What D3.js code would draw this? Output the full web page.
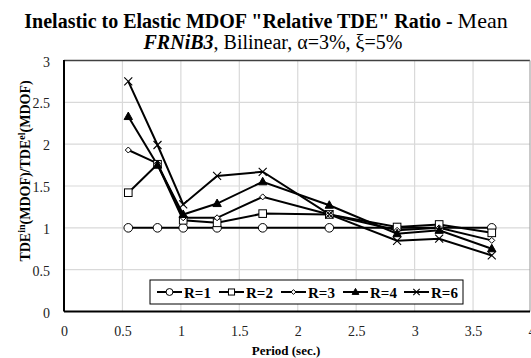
<!DOCTYPE html>
<html>
<head>
<meta charset="utf-8">
<script src="https://cdn.jsdelivr.net/npm/d3@7"></script>
<style>
  body { margin: 0; background: #fff; }
</style>
</head>
<body>
<main></main>
<script>
// periods (sec.) and mean ratios
let periods = [0.55, 0.8, 1.02, 1.31, 1.7, 2.27, 2.85, 3.21, 3.66]
let r1 = [1, 1, 1, 1, 1, 1, 1, 1, 1]
let r2 = [1.42, 1.76, 1.09, 1.06, 1.17, 1.16, 1.01, 1.04, 0.94]
let r3 = [1.93, 1.77, 1.12, 1.12, 1.37, 1.16, 0.97, 1.0, 0.85]
let r4 = [2.33, 1.75, 1.16, 1.29, 1.55, 1.27, 0.93, 0.97, 0.75]
let r6 = [2.75, 1.99, 1.28, 1.62, 1.67, 1.16, 0.845, 0.87, 0.67]
let seriesNames = ["R=1", "R=2", "R=3", "R=4", "R=6"]
let xTicks = [0, 0.5, 1, 1.5, 2, 2.5, 3, 3.5, 4]
let yTicks = [0, 0.5, 1, 1.5, 2, 2.5, 3]

const svgWidth = 531
const svgHeight = 358
const plotLeft = 64, plotRight = 530, plotTop = 60.5, plotBottom = 311.5
const serif = "'Liberation Serif', 'Times New Roman', Times, serif"

let svg = d3.select("main")
    .append("svg")
    .attr("width", svgWidth)
    .attr("height", svgHeight)
    .style("font-family", serif)
    .style("display", "block")

let xScale = d3.scaleLinear().domain([0, 4]).range([plotLeft, plotRight + 1.5])
let yScale = d3.scaleLinear().domain([0, 3]).range([plotBottom, plotTop])

//gridlines
svg.append("g").selectAll("line")
    .data(xTicks.slice(1, -1))
    .enter().append("line")
    .attr("x1", d => xScale(d)).attr("x2", d => xScale(d))
    .attr("y1", plotTop).attr("y2", plotBottom)
    .style("stroke", "#d9d9d9").style("stroke-width", 1.2)

svg.append("g").selectAll("line")
    .data(yTicks.slice(1, -1))
    .enter().append("line")
    .attr("x1", plotLeft).attr("x2", plotRight)
    .attr("y1", d => yScale(d)).attr("y2", d => yScale(d))
    .style("stroke", "#d9d9d9").style("stroke-width", 1.2)

//plot border
svg.append("line").attr("x1", plotLeft).attr("x2", plotRight).attr("y1", plotTop).attr("y2", plotTop)
    .style("stroke", "#404040").style("stroke-width", 1.5)
svg.append("line").attr("x1", plotRight).attr("x2", plotRight).attr("y1", plotTop).attr("y2", plotBottom)
    .style("stroke", "#a6a6a6").style("stroke-width", 1.2)

//axes
let bottomAxis = d3.axisBottom(xScale).tickValues(xTicks).tickSize(0).tickPadding(15)
    .tickFormat(d3.format("~g"))
let xAxis = svg.append("g")
    .attr("transform", `translate(0, ${plotBottom})`)
    .call(bottomAxis)
    .attr("font-family", null)
    .style("font-size", "14px")
xAxis.select("path").remove()
xAxis.selectAll("text").attr("fill", "#222")

let leftAxis = d3.axisLeft(yScale).tickValues(yTicks).tickSize(0).tickPadding(14)
    .tickFormat(d3.format("~g"))
let yAxis = svg.append("g")
    .attr("transform", `translate(${plotLeft}, 0)`)
    .call(leftAxis)
    .attr("font-family", null)
    .style("font-size", "14px")
yAxis.select("path").remove()
yAxis.selectAll("text").attr("fill", "#222").attr("dy", "0.4em")

svg.append("line").attr("x1", plotLeft).attr("x2", plotLeft).attr("y1", plotTop - 0.5).attr("y2", plotBottom)
    .style("stroke", "#000").style("stroke-width", 2)
svg.append("line").attr("x1", plotLeft).attr("x2", plotRight).attr("y1", plotBottom).attr("y2", plotBottom)
    .style("stroke", "#000").style("stroke-width", 2)

//series
let allSeries = [r1, r2, r3, r4, r6]
let line = d3.line()
    .x((d, i) => xScale(periods[i]))
    .y(d => yScale(d))

function drawMarker(g, k, x, y, s) {
  s = s || 1
  if (k == 0) {
    g.append("circle").attr("cx", x).attr("cy", y).attr("r", 4.3 * s)
      .style("fill", "#fff").style("stroke", "#000").style("stroke-width", 1)
  } else if (k == 1) {
    g.append("rect").attr("x", x - 3.8 * s).attr("y", y - 3.8 * s).attr("width", 7.6 * s).attr("height", 7.6 * s)
      .style("fill", "#fff").style("stroke", "#000").style("stroke-width", 1)
  } else if (k == 2) {
    g.append("path").attr("d", `M${x},${y - 3 * s}L${x + 3 * s},${y}L${x},${y + 3 * s}L${x - 3 * s},${y}Z`)
      .style("fill", "#fff").style("stroke", "#000").style("stroke-width", 1)
  } else if (k == 3) {
    g.append("path").attr("d", `M${x},${y - 4.5 * s}L${x + 4.2 * s},${y + 3 * s}L${x - 4.2 * s},${y + 3 * s}Z`)
      .style("fill", "#000").style("stroke", "#000").style("stroke-width", 1)
  } else {
    g.append("path").attr("d", `M${x - 4 * s},${y - 4 * s}L${x + 4 * s},${y + 4 * s}M${x - 4 * s},${y + 4 * s}L${x + 4 * s},${y - 4 * s}`)
      .style("fill", "none").style("stroke", "#000").style("stroke-width", 1.1)
  }
}

allSeries.forEach(function (s, k) {
  svg.append("path")
    .datum(s)
    .attr("d", line)
    .style("fill", "none")
    .style("stroke", "#000")
    .style("stroke-width", 2)
})
allSeries.forEach(function (s, k) {
  let g = svg.append("g")
  s.forEach(function (v, i) { drawMarker(g, k, xScale(periods[i]), yScale(v)) })
})

//legend
let legend = svg.append("g")
legend.append("rect").attr("x", 150).attr("y", 280).attr("width", 313).attr("height", 24)
  .style("fill", "#fff").style("stroke", "#000").style("stroke-width", 1)
let legendX = [157, 219, 281, 343, 404]
seriesNames.forEach(function (name, k) {
  let lx = legendX[k]
  legend.append("line").attr("x1", lx).attr("x2", lx + 25).attr("y1", 292).attr("y2", 292)
    .style("stroke", "#000").style("stroke-width", 2)
  drawMarker(legend, k, lx + 12.5, 292, 0.8)
  legend.append("text").attr("x", lx + 27).attr("y", 297.5)
    .style("font-size", "15px").style("font-weight", "bold").text(name)
})

//titles
let t1 = svg.append("text").attr("x", 266).attr("y", 28).attr("text-anchor", "middle")
t1.append("tspan").style("font-size", "20px").style("font-weight", "bold")
  .text('Inelastic to Elastic MDOF "Relative TDE" Ratio - ')
t1.append("tspan").style("font-size", "22px").text("Mean")

let t2 = svg.append("text").attr("x", 273).attr("y", 49).attr("text-anchor", "middle")
  .style("font-size", "20px")
t2.append("tspan").style("font-weight", "bold").style("font-style", "italic").text("FRNiB3")
t2.append("tspan").text(", Bilinear, α=3%, ξ=5%")

svg.append("text").attr("x", 286).attr("y", 355).attr("text-anchor", "middle")
  .style("font-size", "13px").style("font-weight", "bold").text("Period (sec.)")

let yl = svg.append("text")
  .attr("transform", `translate(30, 171) rotate(-90)`)
  .attr("text-anchor", "middle")
  .style("font-size", "14px").style("font-weight", "bold")
yl.append("tspan").text("TDE")
yl.append("tspan").attr("dy", -5).style("font-size", "10px").text("in")
yl.append("tspan").attr("dy", 5).text("(MDOF)/TDE")
yl.append("tspan").attr("dy", -5).style("font-size", "10px").text("el")
yl.append("tspan").attr("dy", 5).text("(MDOF)")
</script>
</body>
</html>
